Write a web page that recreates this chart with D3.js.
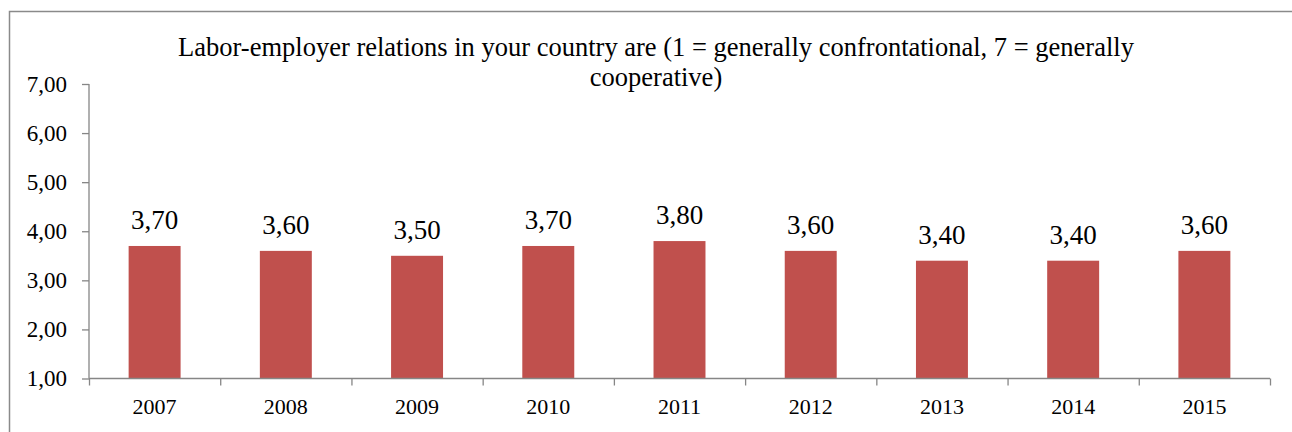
<!DOCTYPE html>
<html><head><meta charset="utf-8">
<script src="https://cdn.jsdelivr.net/npm/d3@7"></script>
<style>
html,body{margin:0;padding:0;background:#fff;}
svg{display:block;}
svg text{font-family:"Liberation Serif","Times New Roman",Times,serif !important;fill:#000;}
</style></head>
<body>
<svg id="chart" width="1292" height="432"></svg>
<script>
const categories = ["2007","2008","2009","2010","2011","2012","2013","2014","2015"];
const values = [3.7, 3.6, 3.5, 3.7, 3.8, 3.6, 3.4, 3.4, 3.6];
const yTicks = [1,2,3,4,5,6,7];
const titleLines = ["Labor-employer relations in your country are (1 = generally confrontational, 7 = generally", "cooperative)"];

(function(){
const svg = d3.select("#chart");
const fmt = v => d3.format(".2f")(v).replace(".", ",");
const FF = '"Liberation Serif", "Times New Roman", serif';

// outer border
svg.append("rect").attr("x",9.5).attr("y",11.5).attr("width",1300).attr("height",440)
  .attr("fill","none").attr("stroke","#8a8a8a").attr("stroke-width",1.5);

const pl = 89, pr = 1270, pt = 84, pb = 378.5;
const x = d3.scaleBand().domain(categories).range([pl,pr]).padding(0);
const xb = d3.scaleLinear().domain([0,categories.length]).range([pl,pr]);
const y = d3.scaleLinear().domain([1,7]).range([pb,pt]);

// title
const title = svg.append("text").attr("text-anchor","middle").attr("font-family",FF).style("font-size","26.5px");
titleLines.forEach((t,i)=>{
  title.append("tspan").attr("x",656).attr("y",56 + i*30).text(t);
});

// bars
const bw = x.bandwidth()*0.396;
svg.append("g").selectAll("rect").data(values).join("rect")
  .attr("x",(d,i)=>x(categories[i]) + x.bandwidth()/2 - bw/2)
  .attr("y",d=>y(d))
  .attr("width",bw)
  .attr("height",d=>y(1)-y(d))
  .attr("fill","#C0504D");

// data labels
svg.append("g").selectAll("text").data(values).join("text")
  .attr("x",(d,i)=>x(categories[i]) + x.bandwidth()/2)
  .attr("y",d=>y(d)-17)
  .attr("text-anchor","middle")
  .attr("font-family",FF)
  .style("font-size","27px")
  .text(d=>fmt(d));

// y axis
const yAxis = svg.append("g").attr("transform",`translate(${pl},0)`)
  .call(d3.axisLeft(y).tickValues(yTicks).tickSize(7).tickPadding(15).tickFormat(fmt));
yAxis.attr("font-family",FF);
yAxis.selectAll("text").style("font-size","23px").attr("fill","#000");
yAxis.selectAll("line").attr("stroke","#868686").attr("stroke-width",1.3);
yAxis.select(".domain").attr("stroke","#868686").attr("stroke-width",1.3).attr("d",`M0,${pt}V${pb}`);

// x axis boundary ticks
const xAxis = svg.append("g").attr("transform",`translate(0,${pb})`)
  .call(d3.axisBottom(xb).tickValues(d3.range(categories.length+1)).tickSize(7).tickFormat(""));
xAxis.selectAll("line").attr("stroke","#868686").attr("stroke-width",1.3);
xAxis.select(".domain").attr("stroke","#868686").attr("stroke-width",1.3).attr("d",`M${pl},0H${pr}`);

// x labels
const xLab = svg.append("g").attr("transform",`translate(0,${pb})`)
  .call(d3.axisBottom(x).tickSize(0).tickPadding(20));
xLab.attr("font-family",FF);
xLab.select(".domain").remove();
xLab.selectAll("text").style("font-size","22px").attr("fill","#000");
})();
</script>
</body></html>
